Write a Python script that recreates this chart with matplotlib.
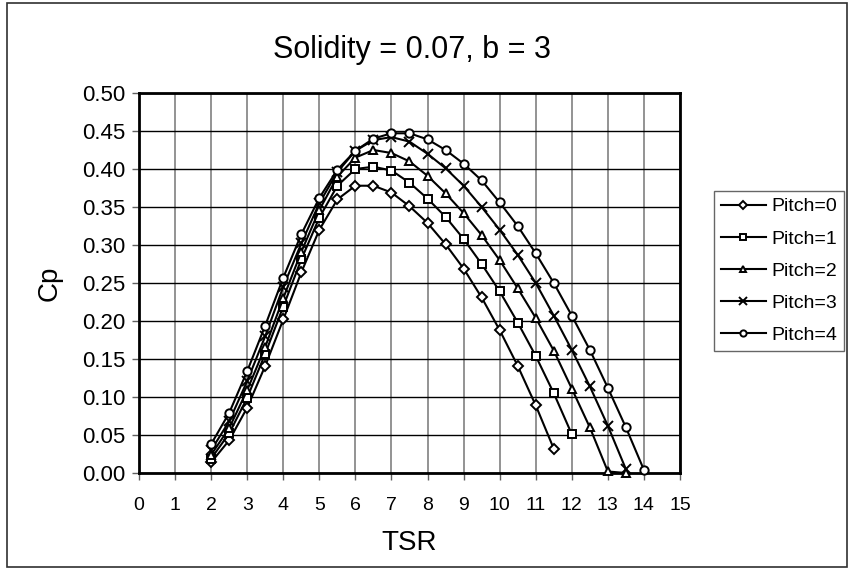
import matplotlib
matplotlib.use("Agg")
import matplotlib.pyplot as plt
from matplotlib.patches import Rectangle

plt.rcParams['font.family'] = ['Liberation Sans', 'DejaVu Sans']

tsr = [2, 2.5, 3, 3.5, 4, 4.5, 5, 5.5, 6, 6.5, 7, 7.5, 8, 8.5, 9, 9.5,
       10, 10.5, 11, 11.5, 12, 12.5, 13, 13.5, 14]

cp_p0 = [0.014, 0.043, 0.086, 0.141, 0.202, 0.264, 0.320, 0.360, 0.378, 0.378,
         0.369, 0.351, 0.329, 0.301, 0.269, 0.231, 0.188, 0.141, 0.089, 0.032]
cp_p1 = [0.019, 0.052, 0.099, 0.157, 0.219, 0.281, 0.336, 0.378, 0.400, 0.403,
         0.398, 0.382, 0.361, 0.337, 0.308, 0.275, 0.239, 0.198, 0.154, 0.105,
         0.051]
cp_p2 = [0.024, 0.059, 0.109, 0.166, 0.230, 0.291, 0.346, 0.390, 0.415, 0.425,
         0.421, 0.410, 0.391, 0.368, 0.342, 0.313, 0.280, 0.243, 0.204, 0.161,
         0.111, 0.060, 0.002, 0.000]
cp_p3 = [0.030, 0.068, 0.121, 0.180, 0.245, 0.302, 0.355, 0.396, 0.424, 0.438,
         0.442, 0.436, 0.420, 0.401, 0.378, 0.350, 0.320, 0.287, 0.250, 0.207,
         0.162, 0.114, 0.062, 0.005]
cp_p4 = [0.038, 0.079, 0.134, 0.194, 0.257, 0.314, 0.362, 0.399, 0.424, 0.440,
         0.447, 0.447, 0.439, 0.425, 0.407, 0.385, 0.356, 0.325, 0.289, 0.250,
         0.207, 0.162, 0.112, 0.060, 0.004]

series = [cp_p0, cp_p1, cp_p2, cp_p3, cp_p4]
labels = ['Pitch=0', 'Pitch=1', 'Pitch=2', 'Pitch=3', 'Pitch=4']
markers = ['D', 's', '^', 'x', 'o']
msizes = [5, 6, 6, 7.5, 6]

fig = plt.figure(figsize=(8.54, 5.69), dpi=100)
ax = fig.add_axes([139/854, 1 - 473/569, (680 - 139)/854, (473 - 93)/569])

for cp, lab, m, ms in zip(series, labels, markers, msizes):
    ax.plot(tsr[:len(cp)], cp, color='black', lw=1.5, marker=m, ms=ms,
            mfc='white', mec='black', mew=1.4, label=lab, clip_on=False,
            zorder=3)

ax.set_xlim(0, 15)
ax.set_ylim(0, 0.5)
ax.set_xticks(range(16))
ax.set_yticks([i * 0.05 for i in range(11)])
ax.set_yticklabels([f'{i * 0.05:.2f}' for i in range(11)])
ax.xaxis.grid(True, color='#808080', lw=1.2)
ax.yaxis.grid(True, color='black', lw=1.0)
ax.set_axisbelow(True)
for s in ax.spines.values():
    s.set_linewidth(2)
ax.tick_params(direction='out', length=5, width=1, color='#606060')
ax.tick_params(axis='x', labelsize=14, pad=12)
ax.tick_params(axis='y', labelsize=16, pad=5)

ax.set_xlabel('TSR', fontsize=20, va='center')
ax.set_ylabel('Cp', fontsize=20, va='center')
ax.xaxis.set_label_coords(0.5, (473 - 543) / 380)
ax.yaxis.set_label_coords((50 - 139) / 541, 0.5)
fig.text(412/854, 1 - 50/569, 'Solidity = 0.07, b = 3', fontsize=22,
         ha='center', va='center')

leg = fig.legend(loc='upper left', bbox_to_anchor=(714/854, 1 - 191/569),
                 borderaxespad=0, fontsize=14, numpoints=1,
                 handlelength=2.3, labelspacing=0.75, handletextpad=0.3,
                 borderpad=0.35, fancybox=False, frameon=True,
                 edgecolor='#404040', markerscale=0.75)
leg.get_frame().set_linewidth(1)

fig.patches.append(Rectangle((7/854, 1 - 567/569), 840/854, 564/569,
                             transform=fig.transFigure, fill=False,
                             edgecolor='#303030', lw=1.2))

fig.savefig('out.png', dpi=100)
